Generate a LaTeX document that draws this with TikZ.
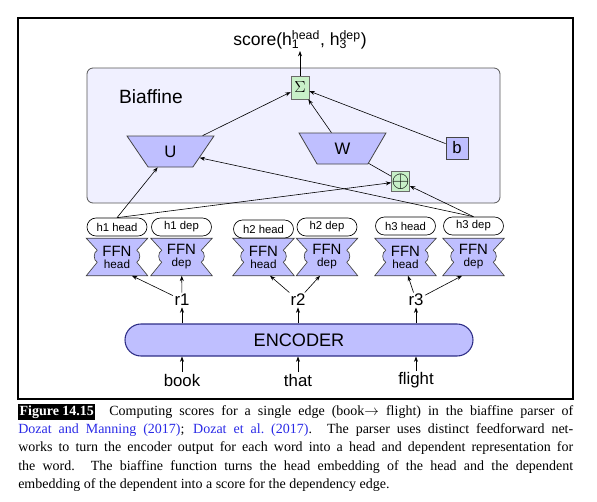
\documentclass[tikz,border=0pt]{standalone}
\usepackage{fontspec}
\setmainfont{Liberation Serif}
\newfontfamily\diagsf{Liberation Sans}
\usepackage{tikz}
\usetikzlibrary{shapes.geometric, arrows.meta, calc, backgrounds}
\usepackage{xcolor}
\definecolor{BiaffFill}{HTML}{F0F0FF}
\definecolor{BiaffLine}{HTML}{555555}
\definecolor{NetFill}{HTML}{BFBFFF}
\definecolor{NetLine}{HTML}{444444}
\definecolor{OpFill}{HTML}{C8F0C8}
\definecolor{OpLine}{HTML}{6A6A6A}
\definecolor{EncLine}{HTML}{2E2E86}
\definecolor{CiteBlue}{HTML}{2A2AE6}
\def\px{0.75pt}
\newcommand{\fsz}[1]{\fontsize{#1}{#1}\selectfont}
% outline of one FFN block, drawn around its (empty) node
\newcommand{\ffnoutline}[1]{%
    \draw[ffnline] (#1.north west) -- (#1.north east)
        -- ([shift={(-11,12)}]#1.north east)
        .. controls ([shift={(-7,14)}]#1.north east) and ([shift={(-7,22)}]#1.north east) .. ([shift={(-11,24)}]#1.north east)
        -- (#1.south east) -- (#1.south west)
        -- ([shift={(11,24)}]#1.north west)
        .. controls ([shift={(7,22)}]#1.north west) and ([shift={(7,14)}]#1.north west) .. ([shift={(11,12)}]#1.north west)
        -- cycle;}
\tikzset{
    % Box styles
    frame/.style={
        rectangle,
        draw=black,
        line width=0.8pt,
        minimum width=555*\px,
        minimum height=381*\px,
        inner sep=0
    },
    biaffine/.style={
        rectangle,
        rounded corners=4.5pt,
        draw=BiaffLine,
        fill=BiaffFill,
        line width=0.6pt,
        minimum width=413*\px,
        minimum height=135*\px
    },
    matrixbox/.style={
        trapezium,
        shape border rotate=180,
        trapezium angle=64,
        trapezium stretches=true,
        draw=NetLine,
        fill=NetFill,
        line width=0.6pt,
        minimum width=87*\px,
        minimum height=31*\px,
        inner sep=0,
        font=\diagsf\fsz{12.5}
    },
    biasbox/.style={
        rectangle,
        draw=NetLine,
        fill=NetFill,
        line width=0.6pt,
        minimum width=22*\px,
        minimum height=22*\px,
        inner sep=0,
        font=\diagsf\fsz{12.5}
    },
    opbox/.style={
        rectangle,
        draw=OpLine,
        fill=OpFill,
        line width=0.6pt,
        inner sep=0
    },
    headlabel/.style={
        rectangle,
        rounded corners=6.75pt,
        draw=black,
        fill=white,
        line width=0.5pt,
        minimum width=60*\px,
        minimum height=18*\px,
        inner sep=0,
        font=\diagsf\fsz{8.5}
    },
    ffn/.style={
        rectangle,
        minimum width=61*\px,
        minimum height=37*\px,
        inner sep=0,
        align=center,
        font=\diagsf
    },
    ffnline/.style={
        draw=NetLine,
        fill=NetFill,
        line width=0.5pt
    },
    encoder/.style={
        rectangle,
        rounded corners=12pt,
        draw=EncLine,
        fill=NetFill,
        line width=0.8pt,
        minimum width=348*\px,
        minimum height=32*\px,
        font=\diagsf\fsz{13.6}
    },
    word/.style={
        inner sep=1pt,
        font=\diagsf\fsz{12.6}
    },
    % Arrow styles
    arrow/.style={
        ->,
        >={Stealth[length=4pt,width=3pt]},
        line width=0.45pt,
        draw=black
    },
    link/.style={
        line width=0.45pt,
        draw=black
    }
}
\begin{document}
\begin{tikzpicture}[x=\px, y=-\px]
    \useasboundingbox (0,0) rectangle (597,501);
    \node[frame] (frame) at (295.5,208.5) {};
    \node[biaffine] (biaff) at (293.5,135.5) {};
    \node[font=\diagsf\fsz{14.4}] (biafflabel) at (151,97) {Biaffine};

    \node[opbox, minimum width=18*\px, minimum height=23*\px] (sigma) at (300,87.5) {\fsz{13}$\Sigma$};
    \node[anchor=south, inner sep=1pt, font=\diagsf\fsz{13.2}] (score) at (300,51)
        {score(h\rlap{\textsubscript{1}}\textsuperscript{head}, h\rlap{\textsubscript{3}}\textsuperscript{dep})};

    \node[matrixbox] (U) at (170.5,151.5) {U};
    \node[matrixbox] (W) at (342.5,148.5) {W};
    \node[biasbox] (b) at (457,148) {b};
    \node[opbox, minimum width=17*\px, minimum height=20*\px] (plus) at (400.5,181.5) {\fsz{17}$\oplus$};

    \foreach \nm/\x/\y/\txt in {p1h/117/227/h1 head, p1d/181.5/227/h1 dep, p2h/263.5/229/h2 head,
                                p2d/327/227/h2 dep, p3h/405.5/226/h3 head, p3d/473.5/226/h3 dep}
        \node[headlabel] (\nm) at (\x,\y) {\txt};

    \foreach \nm/\x/\sub in {f1h/117/head, f1d/181.5/dep, f2h/263.5/head, f2d/327/dep, f3h/405.5/head, f3d/473.5/dep}
        \node[ffn] (\nm) at (\x,257) {\fsz{11.2}FFN\\[-3pt]\fsz{8.8}\sub};
    \begin{scope}[on background layer]
        \foreach \nm in {f1h,f1d,f2h,f2d,f3h,f3d}
            \ffnoutline{\nm};
    \end{scope}

    \foreach \nm/\x in {r1/182, r2/298, r3/416}
        \node[word] (\nm) at (\x,300) {\nm};
    \node[encoder] (enc) at (299,340) {ENCODER};
    \node[word] (book) at (182,380) {book};
    \node[word] (that) at (298,380) {that};
    \node[word] (flight) at (416,380) {flight};

    \draw[arrow] (sigma) -- (score);
    \draw[arrow] (U) -- (sigma);
    \draw[arrow] (W) -- (sigma);
    \draw[arrow] (b) -- (sigma);
    \draw[link] (plus) -- (W);
    \draw[arrow] (p1h.north) -- (U);
    \draw[arrow] (p1h.north) -- (plus);
    \draw[arrow] (p3d.north) -- (U);
    \draw[arrow] (p3d.north) -- (plus);

    \draw[arrow] (r1) -- ([shift={(15,0)}]f1h.south);
    \draw[arrow] (r1) -- (f1d);
    \draw[arrow] (r2) -- ([shift={(6.5,0)}]f2h.south);
    \draw[arrow] (r2) -- ([shift={(-7,0)}]f2d.south);
    \draw[arrow] (r3) -- ([shift={(2.5,0)}]f3h.south);
    \draw[arrow] (r3) -- ([shift={(-11.5,0)}]f3d.south);
    \foreach \r in {r1,r2,r3}
        \draw[arrow] (\r |- enc.north) -- (\r);
    \foreach \w in {book,that,flight}
        \draw[arrow] (\w) -- (\w |- enc.south);

    \setlength{\fboxsep}{1pt}
    \node[anchor=north west, inner sep=0, text width=555*\px, align=justify,
          font=\fontsize{10.5}{13.7}\selectfont] (caption) at (18,404)
        {\colorbox{black}{\textcolor{white}{\bfseries Figure 14.15}}\hskip 1em Computing scores for a single edge (book$\rightarrow$ flight) in the biaffine parser of\linebreak
        \textcolor{CiteBlue}{Dozat and Manning (2017)}; \textcolor{CiteBlue}{Dozat et al.\ (2017)}. The parser uses distinct feedforward net-\linebreak
        works to turn the encoder output for each word into a head and dependent representation for\linebreak
        the word. The biaffine function turns the head embedding of the head and the dependent\linebreak
        embedding of the dependent into a score for the dependency edge.};
\end{tikzpicture}
\end{document}
